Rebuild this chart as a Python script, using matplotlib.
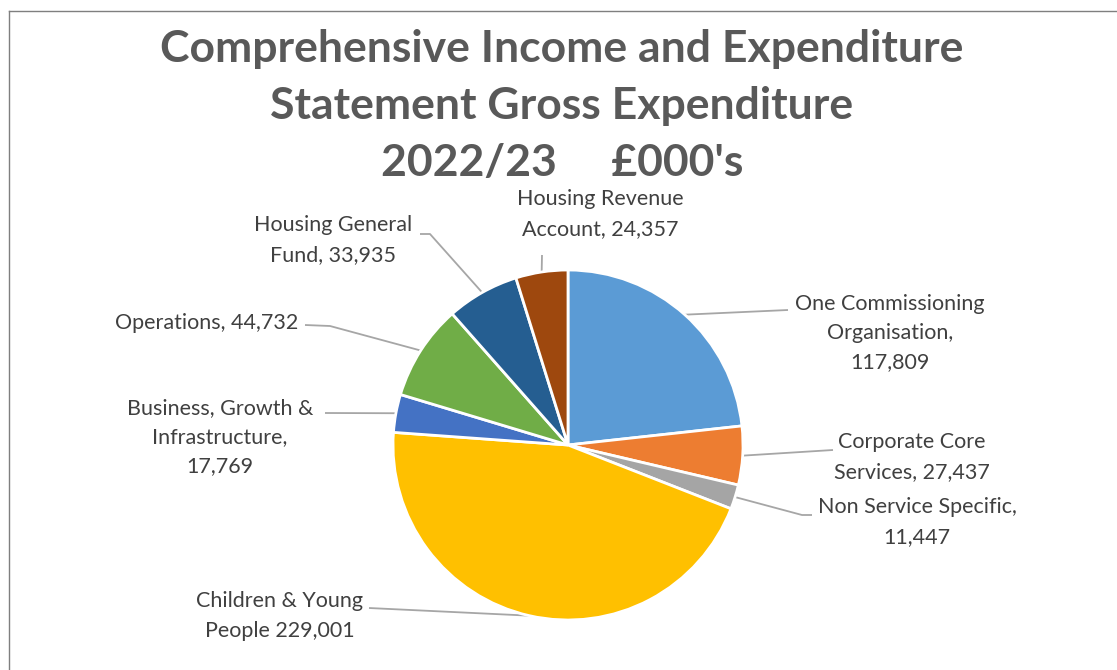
import matplotlib
matplotlib.use("Agg")
import matplotlib.pyplot as plt
import numpy as np

categories = ["One Commissioning Organisation", "Corporate Core Services", "Non Service Specific",
              "Children & Young People", "Business, Growth & Infrastructure", "Operations",
              "Housing General Fund", "Housing Revenue Account"]
values = [117809, 27437, 11447, 229001, 17769, 44732, 33935, 24357]
label_templates = ["One Commissioning\nOrganisation,\n{}", "Corporate Core\nServices, {}",
                   "Non Service Specific,\n{}", "Children & Young\nPeople {}",
                   "Business, Growth &\nInfrastructure,\n{}", "Operations, {}",
                   "Housing General\nFund, {}", "Housing Revenue\nAccount, {}"]
colors = ["#5B9BD5", "#ED7D31", "#A5A5A5", "#FFC000", "#4472C4", "#70AD47", "#255E91", "#9E480E"]
title = "Comprehensive Income and Expenditure\nStatement Gross Expenditure\n2022/23     £000's"

W, H = 1117, 670
fig = plt.figure(figsize=(W / 100, H / 100), dpi=100)
ax = fig.add_axes([0, 0, 1, 1])

FONT = "Lato"
cx, cy, R = 568, H - 445, 175
wedges, _ = ax.pie(values, colors=colors, startangle=90, counterclock=False,
                   center=(cx, cy), radius=R, frame=True,
                   wedgeprops=dict(edgecolor="white", linewidth=2))
ax.set_xlim(0, W)
ax.set_ylim(0, H)
ax.set_aspect("equal")
ax.axis("off")

# label layout (pixel coords from top): text centre, line start near text, optional elbow
layout = [
    ((890, 333), (788, 310), None),
    ((912, 457), (833, 450), None),
    ((917, 522), (812, 515), (802, 515)),
    ((280, 616), (369, 608), None),
    ((220, 437), (325, 413), None),
    ((207, 323), (305, 325), (330, 326)),
    ((333, 240), (420, 234), (430, 234)),
    ((600, 214), (542, 255), None),
]

for w, tmpl, val, (tc, ls, el) in zip(wedges, label_templates, values, layout):
    ang = np.deg2rad((w.theta1 + w.theta2) / 2)
    ex, ey = cx + R * np.cos(ang), cy + R * np.sin(ang)
    xs = [ls[0]] + ([el[0]] if el else []) + [ex]
    ys = [H - ls[1]] + ([H - el[1]] if el else []) + [ey]
    ax.plot(xs, ys, color="#A6A6A6", lw=1.3, solid_capstyle="butt", zorder=0)
    ax.text(tc[0], H - tc[1], tmpl.format(f"{val:,}"), ha="center", va="center",
            fontsize=15.5, color="#404040", family=FONT, linespacing=1.58)

fig.text(562 / W, 1 - 106 / H, title, ha="center", va="center", fontsize=32,
         fontweight="bold", color="#595959", family=FONT, linespacing=1.51)

# chart area border
fig.add_artist(plt.Line2D([9 / W, 9 / W], [0, 1 - 11 / H], transform=fig.transFigure,
                          color="#7F7F7F", lw=1))
fig.add_artist(plt.Line2D([9 / W, 1], [1 - 11 / H, 1 - 11 / H], transform=fig.transFigure,
                          color="#7F7F7F", lw=1))

fig.savefig("out.png", dpi=100)
